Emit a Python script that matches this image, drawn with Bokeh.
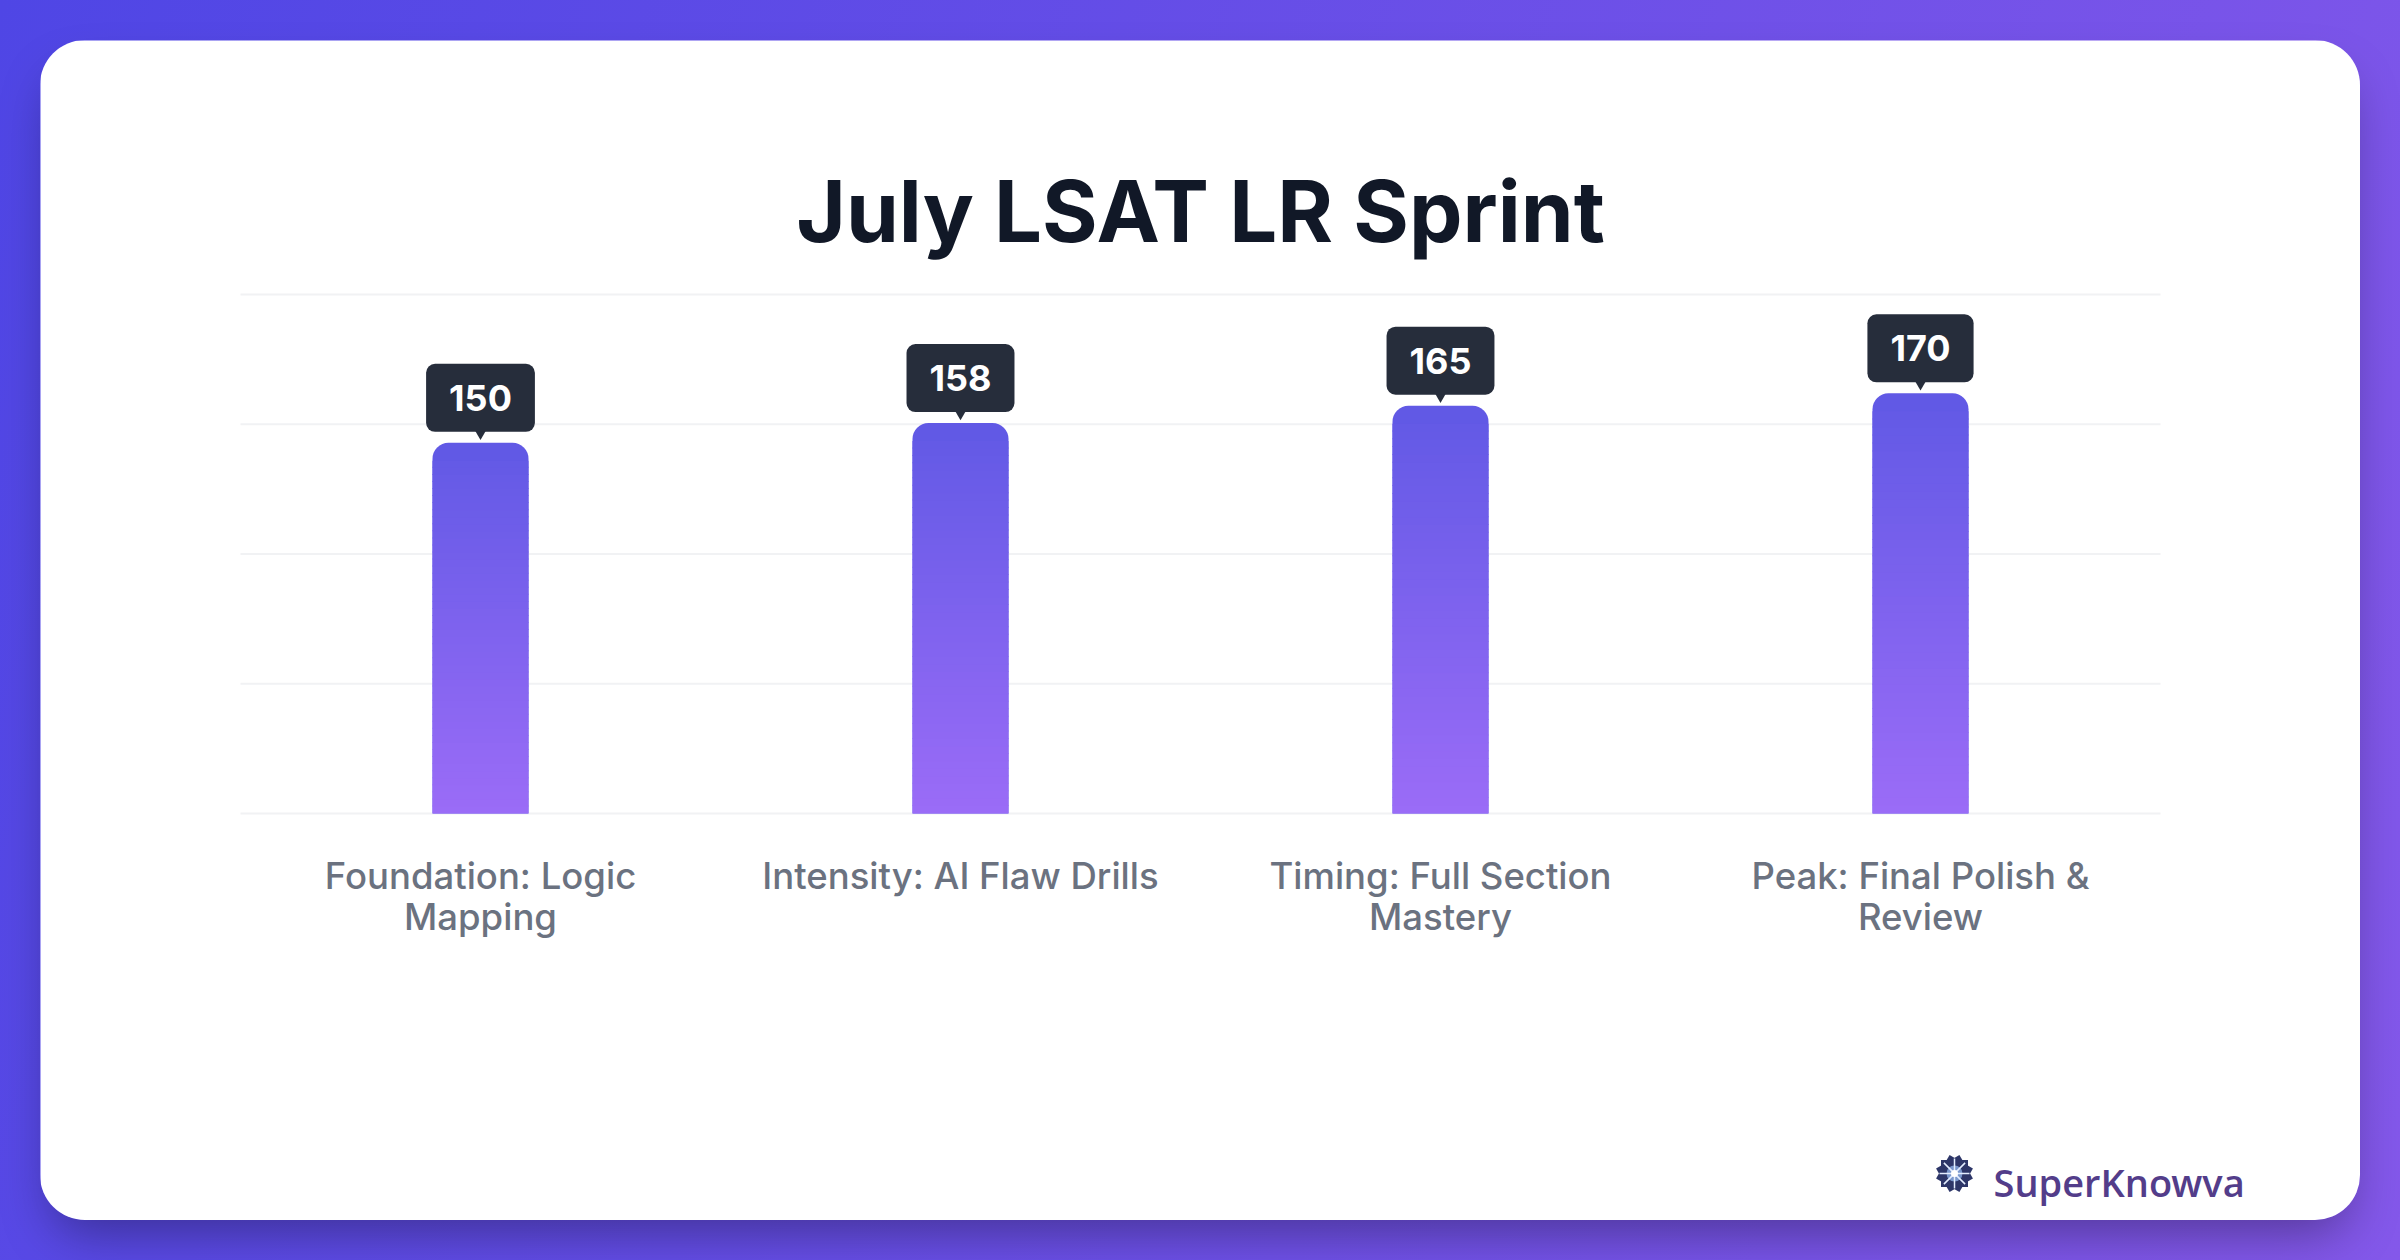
from bokeh.plotting import figure
from bokeh.models import Range1d
from bokeh.layouts import column
from bokeh.embed import file_html
from bokeh.resources import INLINE
from bokeh.core.properties import value

# ---------------- data ----------------
categories = [
    "Foundation: Logic\nMapping",
    "Intensity: AI Flaw Drills",
    "Timing: Full Section\nMastery",
    "Peak: Final Polish &\nReview",
]
scores = [150, 158, 165, 170]
score_labels = ["150", "158", "165", "170"]
grid_ticks = [0, 52.5, 105, 157.5, 210]
title_text = "July LSAT LR Sprint"
brand_text = "SuperKnowva"

# ---------------- style / layout ----------------
CARD_W, CARD_H = 2320, 1180
PX_PER_CAT = 480          # horizontal pixels per category
FIRST_CAT_PX = 440        # px from card left to first category centre
ZERO_PX = 773             # px from card top to value 0
PX_PER_UNIT = 519 / 210   # vertical pixels per score unit
BAR_W = 0.2
BAR_RADIUS = 16
TOP_COLOR = (97, 89, 229)
BOTTOM_COLOR = (155, 108, 247)
BOX_COLOR = "#262d3b"
GRID_COLOR = "#f1f2f4"

x_start = -FIRST_CAT_PX / PX_PER_CAT
x_end = (CARD_W - FIRST_CAT_PX) / PX_PER_CAT
y_start = -(CARD_H - ZERO_PX) / PX_PER_UNIT
y_end = ZERO_PX / PX_PER_UNIT

p = figure(
    width=CARD_W, height=CARD_H,
    x_range=Range1d(x_start, x_end), y_range=Range1d(y_start, y_end),
    output_backend="svg", toolbar_location=None,
    x_axis_location=None, y_axis_location=None,
    min_border=0, outline_line_color=None,
    background_fill_color="white", border_fill_color="white",
    margin=(40, 40, 40, 40),
    styles={
        "border-radius": "45px",
        "overflow": "hidden",
        "box-shadow": "0 25px 50px -12px rgba(0,0,0,0.35)",
    },
)
p.grid.visible = False

xs = list(range(len(categories)))

# grid lines (span only the category area)
n = len(categories)
p.segment(x0=[-0.5] * len(grid_ticks), x1=[n - 0.5] * len(grid_ticks),
          y0=grid_ticks, y1=grid_ticks, line_color=GRID_COLOR, line_width=2)


def hexc(c):
    return "#%02x%02x%02x" % tuple(int(round(v)) for v in c)


# bars: rounded top in top colour, then gradient slices underneath
p.vbar(x=xs, top=scores, bottom=0, width=BAR_W, fill_color=hexc(TOP_COLOR),
       line_color=None,
       border_radius=dict(top_left=BAR_RADIUS, top_right=BAR_RADIUS,
                          bottom_right=0, bottom_left=0))

N_SLICES = 50
r_units = (BAR_RADIUS + 2) / PX_PER_UNIT
sx, sb, st, sc = [], [], [], []
for i, s in enumerate(scores):
    span = s - r_units
    h = span / N_SLICES
    for k in range(N_SLICES):
        b = k * h
        t = (k + 1) * h + (0.4 if k < N_SLICES - 1 else 0)
        f = ((k + 0.5) * h) / s
        col = tuple(BOTTOM_COLOR[j] + (TOP_COLOR[j] - BOTTOM_COLOR[j]) * f for j in range(3))
        sx.append(i); sb.append(b); st.append(t); sc.append(hexc(col))
p.vbar(x=sx, bottom=sb, top=st, width=BAR_W, fill_color=sc, line_color=None)

# value tooltips
p.scatter(x=xs, y=[s + 12 / PX_PER_UNIT for s in scores], marker="inverted_triangle",
          size=16, fill_color=BOX_COLOR, line_color=None)
p.text(x=xs, y=scores, text=score_labels, y_offset=-45,
       text_align="center", text_baseline="middle",
       text_font=value("Inter"), text_font_style="bold", text_font_size="36px",
       text_color="white", background_fill_color=BOX_COLOR, border_radius=9,
       padding=dict(left=23, right=23, top=21, bottom=21))

# category labels
p.text(x=xs, y=[0] * n, text=categories, y_offset=40,
       text_align="center", text_baseline="top", text_line_height=0.95,
       text_font=value("Inter Medium, Inter"), text_font_size="36.5px", text_color="#6b7280")

# title
p.text(x=[(n - 1) / 2], y=[y_end], text=[title_text], y_offset=171,
       text_align="center", text_baseline="alphabetic",
       text_font=value("Inter"), text_font_style="bold", text_font_size="85px",
       text_color="#111827")

# brand logo
icon_x = x_end - 406 / PX_PER_CAT
icon_y = y_start + 47 / PX_PER_UNIT
for ang in (0, 0.5236, 1.0472):
    p.scatter(x=[icon_x], y=[icon_y], marker="square", size=27, angle=ang,
              fill_color="#2d3668", line_color=None)
p.scatter(x=[icon_x], y=[icon_y], marker="circle", size=16,
          fill_color="#8fb2e6", fill_alpha=0.8, line_color=None)
p.scatter(x=[icon_x], y=[icon_y], marker="asterisk", size=30,
          line_color="#e4eeff", line_width=1.5)
p.scatter(x=[icon_x], y=[icon_y], marker="circle", size=7,
          fill_color="white", line_color=None)
p.text(x=[x_end], y=[y_start], text=[brand_text], x_offset=-367, y_offset=-39,
       text_align="left", text_baseline="alphabetic",
       text_font=value("Open Sans SemiBold, Open Sans"), text_font_size="38px",
       text_color="#533d8a")

layout = column(p, width=2400, height=1260,
                styles={"background": "linear-gradient(110deg, #4f46e5 0%, #8458ea 100%)"})

open("out.html", "w").write(file_html(layout, INLINE))
